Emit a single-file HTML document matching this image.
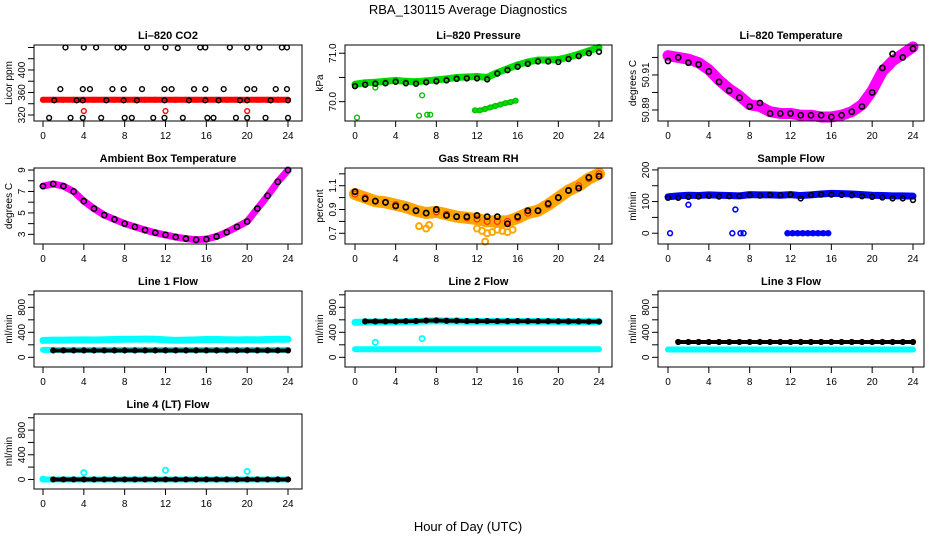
<!DOCTYPE html>
<html><head><meta charset="utf-8"><style>
html,body{margin:0;padding:0;background:#fff}
svg{display:block;font-family:"Liberation Sans",Arial,sans-serif}
</style></head><body>
<svg id="c" width="936" height="540" viewBox="0 0 936 540" xmlns="http://www.w3.org/2000/svg">
<text x="468" y="14" text-anchor="middle" font-size="13">RBA_130115  Average Diagnostics</text>
<text x="468" y="531" text-anchor="middle" font-size="13">Hour of Day (UTC)</text>
</svg>
<script>
const H=[0,1,2,3,4,5,6,7,8,9,10,11,12,13,14,15,16,17,18,19,20,21,22,23,24];
const xTicks=[0,4,8,12,16,20,24];
// CO2
const co2Red=[347,347,347,347,347,347,347,347,347,347,347,347,347,347,347,347,347,347,347,347,347,347,347,347,347];
const co2RedOutX=[4,12,20];
const co2RedOutY=[327,327,327];
const co2BlackX=[2.2,4.0,5.2,7.3,7.9,10.2,12.0,13.2,15.4,15.9,18.3,20.0,21.2,23.4,23.9,1.7,3.9,4.6,6.8,7.9,9.7,11.9,12.6,14.8,15.9,17.7,20.0,20.7,22.8,23.9,1.1,3.3,3.9,6.2,7.9,9.2,11.9,14.3,15.9,17.2,19.3,20.0,22.3,24,0.6,2.7,3.9,5.7,8.0,8.7,10.8,11.9,13.7,16.1,16.7,18.9,20.0,21.8,24.0];
const co2BlackY=[440,440,440,440,440,440,440,439,440,440,440,440,440,440,440,366,366,366,366,366,366,366,366,366,366,366,366,366,366,366,346,346,346,346,346,346,346,346,346,346,346,346,346,346,315,315,315,315,315,315,315,315,315,315,315,315,315,315,315];
// Pressure
const presGreen=[70.36,70.39,70.40,70.42,70.44,70.42,70.41,70.43,70.45,70.47,70.50,70.51,70.52,70.50,70.60,70.68,70.76,70.82,70.86,70.86,70.87,70.92,70.98,71.05,71.12];
const presBlack=[70.32,70.35,70.37,70.38,70.41,70.38,70.37,70.40,70.42,70.44,70.47,70.48,70.48,70.46,70.58,70.65,70.72,70.78,70.83,70.83,70.82,70.88,70.94,71.00,71.03];
const presOutX=[0.2,2,6.3,6.6,7.1,7.4,11.8,12.3,12.8,13.3,13.8,14.3,14.8,15.3,15.8];
const presOutY=[69.67,70.29,69.71,70.13,69.73,69.73,69.82,69.82,69.85,69.88,69.91,69.94,69.97,69.99,70.02];
// Li-820 temperature
const tempMag=[50.921,50.920,50.919,50.917,50.913,50.907,50.902,50.898,50.893,50.892,50.889,50.888,50.888,50.887,50.887,50.886,50.886,50.887,50.889,50.893,50.901,50.912,50.918,50.922,50.926];
const tempBlack=[50.918,50.920,50.917,50.916,50.912,50.906,50.901,50.897,50.892,50.894,50.888,50.888,50.888,50.887,50.887,50.887,50.886,50.887,50.889,50.892,50.900,50.914,50.922,50.920,50.925];
// Ambient box temperature
const ambVals=[7.5,7.7,7.5,7.0,6.1,5.4,4.8,4.4,4.0,3.7,3.4,3.15,2.95,2.75,2.6,2.5,2.55,2.8,3.2,3.7,4.2,5.4,6.6,7.9,9.0];
// Gas stream RH
const rhOrange=[1.03,1.00,0.97,0.96,0.94,0.92,0.89,0.87,0.88,0.86,0.84,0.83,0.82,0.80,0.80,0.80,0.83,0.87,0.89,0.94,1.00,1.06,1.10,1.16,1.20];
const rhBlack=[1.05,0.99,0.97,0.96,0.93,0.92,0.89,0.87,0.90,0.85,0.84,0.84,0.85,0.84,0.84,0.78,0.84,0.89,0.89,0.95,1.00,1.06,1.08,1.17,1.18];
const rhOutX=[6.3,7,7.3,12,12.5,13,13.5,14,14.5,15,15.5,12.8];
const rhOutY=[0.76,0.74,0.77,0.74,0.72,0.70,0.71,0.73,0.72,0.71,0.73,0.63];
// Sample flow
const sfBlue=[115,118,120,119,121,120,119,118,122,121,121,120,122,119,121,124,126,125,124,122,120,119,118,118,117];
const sfBlack=[112,112,115,116,118,116,117,118,120,119,121,120,122,110,121,122,122,121,120,117,115,113,110,110,105];
const sfOutX=[0.2,2,6.3,6.6,7.1,7.4,11.7,12.2,12.7,13.2,13.7,14.2,14.7,15.2,15.7];
const sfOutY=[0,90,0,75,0,0,0,0,0,0,0,0,0,0,0];
// Line flows
const l1Upper=[270,275,275,278,280,278,282,285,290,290,292,290,280,272,275,280,285,285,282,280,282,280,285,290,290];
const l1Lower=[120,120,120,120,120,120,120,120,120,120,120,120,120,120,120,120,120,120,120,120,120,120,120,120,120];
const l1Black=[110,110,110,110,110,110,110,110,110,110,110,110,110,110,110,110,110,110,110,110,110,110,110,110,110];
const l2Upper=[560,565,565,565,565,570,575,580,585,580,580,575,575,575,575,575,575,575,575,575,570,570,570,570,570];
const l2Black=[570,575,575,575,575,578,580,588,590,585,585,580,580,580,578,578,580,578,578,578,576,575,575,572,572];
const l2Lower=[130,130,130,130,130,130,130,130,130,130,130,130,130,130,130,130,130,130,130,130,130,130,130,130,130];
const l2OutX=[2,6.6];
const l2OutY=[240,300];
const l3Black=[245,245,245,245,245,245,245,245,245,245,245,245,245,245,245,245,245,245,245,245,245,245,245,245,245];
const l3Lower=[125,125,125,125,125,125,125,125,125,125,125,125,125,125,125,125,125,125,125,125,125,125,125,125,125];
const l4Black=[0,0,0,0,0,0,0,0,0,0,0,0,0,0,0,0,0,0,0,0,0,0,0,0,0];
const l4OutX=[0,4,12,20];
const l4OutY=[5,110,150,130];

const NS="http://www.w3.org/2000/svg";
const svg=document.getElementById('c');
const cols=[{l:34,r:302,x0:43,x24:288},{l:345,r:612,x0:355,x24:599},{l:658,r:924,x0:668,x24:913}];
const rows=[{t:45,b:121},{t:168,b:244},{t:291,b:367},{t:414,b:489}];
function mk(tag,attrs,parent){const e=document.createElementNS(NS,tag);for(const k in attrs)e.setAttribute(k,attrs[k]);(parent||svg).appendChild(e);return e;}

function panel(ci,ri,name,title,ylab,ylim,yticks,ylabels){
  const c=cols[ci],r=rows[ri];
  const g=mk('g',{});
  
  
  const sx=v=>c.x0+(c.x24-c.x0)*v/24;
  const sy=v=>r.b-(v-ylim[0])/(ylim[1]-ylim[0])*(r.b-r.t);
  const t=mk('text',{x:(c.l+c.r)/2,y:r.t-6,'text-anchor':'middle','font-size':11,'font-weight':'bold'},g);
  t.textContent=title;
  
  
  const data=mk('g',{},g);
  
  
  const box=mk('rect',{x:c.l,y:r.t,width:c.r-c.l,height:r.b-r.t,fill:'none',stroke:'#000','stroke-width':1},g);
  
  
  const xa=mk('g',{},g);
  
  
  mk('line',{x1:sx(0),x2:sx(24),y1:r.b,y2:r.b,stroke:'#000'},xa);
  xTicks.forEach(v=>{
    mk('line',{x1:sx(v),x2:sx(v),y1:r.b,y2:r.b+6,stroke:'#000'},xa);
    const tl=mk('text',{x:sx(v),y:r.b+18,'text-anchor':'middle','font-size':10},xa);
    tl.textContent=v;
    
    
  });
  const ya=mk('g',{},g);
  
  
  yticks.forEach(v=>{mk('line',{x1:c.l-6,x2:c.l,y1:sy(v),y2:sy(v),stroke:'#000'},ya);});
  ylabels.forEach(v=>{
    const tl=mk('text',{x:0,y:0,'text-anchor':'middle','font-size':10,transform:`translate(${c.l-9},${sy(v)}) rotate(-90)`},ya);
    tl.textContent=v;
    
    
  });
  const yl=mk('text',{x:0,y:0,'text-anchor':'middle','font-size':10,transform:`translate(${c.l-22},${(r.t+r.b)/2}) rotate(-90)`},g);
  yl.textContent=ylab;
  
  
  return {sx,sy,g:data};
}
function pts(p,xs,ys,color,rad,sw,nm){
  const g=mk('g',{},p.g);
  
  
  xs.forEach((x,i)=>{const e=mk('circle',{cx:p.sx(x),cy:p.sy(ys[i]),r:rad||2.4,fill:'none',stroke:color,'stroke-width':sw||1.4},g);
    
    });
}
function band(p,xs,ys,color,w,nm){
  const e=mk('polyline',{points:xs.map((x,i)=>p.sx(x)+','+p.sy(ys[i])).join(' '),fill:'none',stroke:color,'stroke-width':w,'stroke-linejoin':'round','stroke-linecap':'round'},p.g);
  
  
}
const flowTicks=[0,200,400,600,800,1000];
const flowLabels=[0,400,800];
let p;
// CO2
p=panel(0,0,'co2','Li\u2013820 CO2','Licor ppm',[309.3,444.4],[320,340,360,380,400,420,440],[320,360,400]);
band(p,H,co2Red,'#ff0000',6,'co2-red-band');
pts(p,H,co2Red,'#ff0000',2.4,1.4,'co2-red');
pts(p,co2RedOutX,co2RedOutY,'#ff0000',2.4,1.4,'co2-red-outlier');
pts(p,co2BlackX,co2BlackY,'#000',2.4,1.4,'co2-black');
// Pressure
p=panel(1,0,'pressure','Li\u2013820 Pressure','kPa',[69.6,71.17],[70.0,70.5,71.0],['70.0','71.0']);
band(p,H,presGreen,'#00e000',7,'pressure-green-band');
pts(p,H,presGreen,'#00c000',2.4,1.4,'pressure-green');
band(p,presOutX.slice(6),presOutY.slice(6),'#00e000',5,'pressure-green-low-band');
pts(p,presOutX,presOutY,'#00c000',2.4,1.4,'pressure-green-outlier');
pts(p,H,presBlack,'#000',2.4,1.6,'pressure-black');
// Li temp
p=panel(2,0,'li-temp','Li\u2013820 Temperature','degrees C',[50.8837,50.9271],[50.89,50.90,50.91,50.92],['50.89','50.91']);
band(p,H,tempMag,'#ff00ff',11,'li-temp-magenta-band');
pts(p,H,tempMag,'#ff00ff',3,1.6,'li-temp-magenta');
pts(p,H,tempBlack,'#000',2.6,1.6,'li-temp-black');
// Ambient
p=panel(0,1,'ambient','Ambient Box Temperature','degrees C',[2.1,9.19],[3,4,5,6,7,8,9],[3,5,7,9]);
band(p,H,ambVals,'#ff00ff',7,'ambient-magenta-band');
pts(p,H,ambVals,'#000',2.6,1.6,'ambient-black');
// RH
p=panel(1,1,'rh','Gas Stream RH','percent',[0.61,1.249],[0.7,0.8,0.9,1.0,1.1,1.2],['0.7','0.9','1.1']);
band(p,H,rhOrange,'#ffa500',12,'rh-orange-band');
pts(p,H,rhOrange,'#ff2000',3,1,'rh-orange');
pts(p,rhOutX,rhOutY,'#ffa500',3,2,'rh-orange-outlier');
pts(p,H,rhBlack,'#000',2.6,1.7,'rh-black');
// Sample flow
p=panel(2,1,'sample-flow','Sample Flow','ml/min',[-34,206],[0,50,100,150,200],[0,100,200]);
band(p,H,sfBlue,'#0000ff',7,'sample-flow-blue-band');
pts(p,H,sfBlue,'#0000ff',2.4,1.4,'sample-flow-blue');
band(p,sfOutX.slice(6),sfOutY.slice(6),'#0000ff',5,'sample-flow-zero-band');
pts(p,sfOutX,sfOutY,'#0000ff',2.4,1.6,'sample-flow-outlier');
pts(p,H,sfBlack,'#000',2.4,1.6,'sample-flow-black');
// Line 1
p=panel(0,2,'line1','Line 1 Flow','ml/min',[-155,1061],flowTicks,flowLabels);
band(p,H,l1Upper,'#00ffff',7,'line1-cyan-upper');
band(p,H,l1Lower,'#00ffff',6,'line1-cyan-lower');
band(p,H.slice(1),l1Black.slice(1),'#000',4,'line1-black-band');
pts(p,H.slice(1),l1Black.slice(1),'#000',2.4,1.4,'line1-black');
// Line 2
p=panel(1,2,'line2','Line 2 Flow','ml/min',[-155,1061],flowTicks,flowLabels);
band(p,H,l2Upper,'#00ffff',7,'line2-cyan-upper');
band(p,H,l2Lower,'#00ffff',6,'line2-cyan-lower');
pts(p,l2OutX,l2OutY,'#00ffff',2.6,1.8,'line2-cyan-outlier');
band(p,H.slice(1),l2Black.slice(1),'#000',4,'line2-black-band');
pts(p,H.slice(1),l2Black.slice(1),'#000',2.4,1.4,'line2-black');
// Line 3
p=panel(2,2,'line3','Line 3 Flow','ml/min',[-155,1061],flowTicks,flowLabels);
band(p,H,l3Lower,'#00ffff',6,'line3-cyan-lower');
band(p,H.slice(1),l3Black.slice(1),'#000',4,'line3-black-band');
pts(p,H.slice(1),l3Black.slice(1),'#000',2.4,1.4,'line3-black');
// Line 4
p=panel(0,3,'line4','Line 4 (LT) Flow','ml/min',[-155,1061],flowTicks,flowLabels);
band(p,H,l4Black,'#00ffff',6,'line4-cyan-band');
band(p,H.slice(1),l4Black.slice(1),'#000',4,'line4-black-band');
pts(p,H.slice(1),l4Black.slice(1),'#000',2.4,1.4,'line4-black');
pts(p,l4OutX,l4OutY,'#00ffff',2.6,1.8,'line4-cyan-outlier');
</script>
</body></html>
